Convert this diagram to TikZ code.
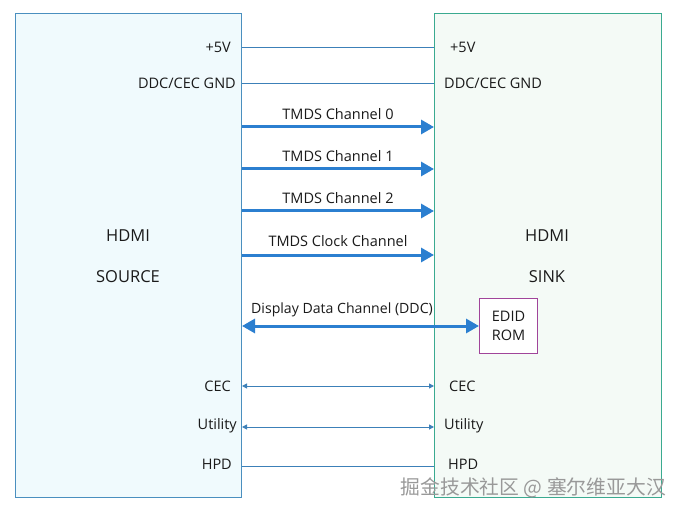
\documentclass[tikz,border=0pt]{standalone}
\usepackage{fontspec}
\setmainfont{Open Sans}
\newfontfamily\cjkfont{Noto Sans CJK SC}
\usetikzlibrary{arrows.meta}
\definecolor{srcfill}{HTML}{F0FAFD}
\definecolor{srcline}{HTML}{4A8FBF}
\definecolor{snkfill}{HTML}{F4FAF6}
\definecolor{snkline}{HTML}{3AAA90}
\definecolor{thickblue}{HTML}{2B7FD0}
\definecolor{thinblue}{HTML}{3C80B8}
\definecolor{edidline}{HTML}{A0449A}
\definecolor{txt}{HTML}{1A1A1A}
\tikzset{
  lbl/.style={font=\fontsize{14.5}{16}\selectfont, text=txt, inner sep=0pt},
  big/.style={font=\fontsize{16.5}{18}\selectfont, text=txt, inner sep=0pt},
  thinline/.style={draw=thinblue, line width=1pt},
  thinarrow/.style={draw=thinblue, line width=1pt, {Triangle[length=5pt,width=5pt]}-{Triangle[length=5pt,width=5pt]}},
  thickarrow/.style={draw=thickblue, line width=3pt, -{Triangle[length=13pt,width=14pt]}},
  thickdbl/.style={draw=thickblue, line width=3pt, {Triangle[length=13pt,width=14pt]}-{Triangle[length=13pt,width=14pt]}},
}
\begin{document}
\begin{tikzpicture}[x=1pt,y=-1pt]
\useasboundingbox (0,0) rectangle (680,513);
\fill[white] (0,0) rectangle (680,513);
% boxes
\node[draw=srcline, fill=srcfill, line width=1pt, minimum width=226pt, minimum height=484pt, inner sep=0pt, anchor=north west] (src) at (15,13) {};
\node[draw=snkline, fill=snkfill, line width=1pt, minimum width=227pt, minimum height=484pt, inner sep=0pt, anchor=north west] (snk) at (434,13) {};
\node[draw=edidline, fill=white, line width=1pt, minimum width=58pt, minimum height=55pt, inner sep=0pt, anchor=north west, align=center, lbl] (edid) at (479,298) {EDID\\[3pt]ROM};
% big titles
\node[big] (srct1) at (128,236) {HDMI};
\node[big] (srct2) at (128,277) {SOURCE};
\node[big] (snkt1) at (547,236) {HDMI};
\node[big] (snkt2) at (547,277) {SINK};
% left labels
\node[lbl, anchor=east] (l5v) at (231,47) {+5V};
\node[lbl, anchor=east] (lgnd) at (236,83) {DDC/CEC GND};
\node[lbl, anchor=east] (lcec) at (231,386) {CEC};
\node[lbl, anchor=east] (lut) at (237,426) {Utility};
\node[lbl, anchor=east] (lhpd) at (232,464) {HPD};
% right labels
\node[lbl, anchor=west] (r5v) at (450,47) {+5V};
\node[lbl, anchor=west] (rgnd) at (444,83) {DDC/CEC GND};
\node[lbl, anchor=west] (rcec) at (449,386) {CEC};
\node[lbl, anchor=west] (rut) at (444,426) {Utility};
\node[lbl, anchor=west] (rhpd) at (448,464) {HPD};
% thin lines
\draw[thinline] (src.east |- 0,48) -- (snk.west |- 0,48);
\draw[thinline] (src.east |- 0,84) -- (snk.west |- 0,84);
\draw[thinarrow] (src.east |- 0,386) -- (snk.west |- 0,386);
\draw[thinarrow] (src.east |- 0,427) -- (snk.west |- 0,427);
\draw[thinline] (src.east |- 0,466) -- (snk.west |- 0,466);
% thick arrows
\draw[thickarrow] (src.east |- 0,127) -- node[lbl, above=6pt] (t0) {TMDS Channel 0} (snk.west |- 0,127);
\draw[thickarrow] (src.east |- 0,169) -- node[lbl, above=6pt] (t1) {TMDS Channel 1} (snk.west |- 0,169);
\draw[thickarrow] (src.east |- 0,211) -- node[lbl, above=6pt] (t2) {TMDS Channel 2} (snk.west |- 0,211);
\draw[thickarrow] (src.east |- 0,255) -- node[lbl, above=7pt] (tc) {TMDS Clock Channel} (snk.west |- 0,255);
\draw[thickdbl] (src.east |- edid.west) -- (edid.west);
\node[lbl, font=\fontsize{14.1}{16}\selectfont] (ddc) at (342,310) {Display Data Channel (DDC)};
% watermark
\node[font=\cjkfont\fontsize{19.8}{21}\selectfont, text=black!40, inner sep=0pt, anchor=east] (wm) at (666,488) {掘金技术社区 @ 塞尔维亚大汉};
\end{tikzpicture}
\end{document}
